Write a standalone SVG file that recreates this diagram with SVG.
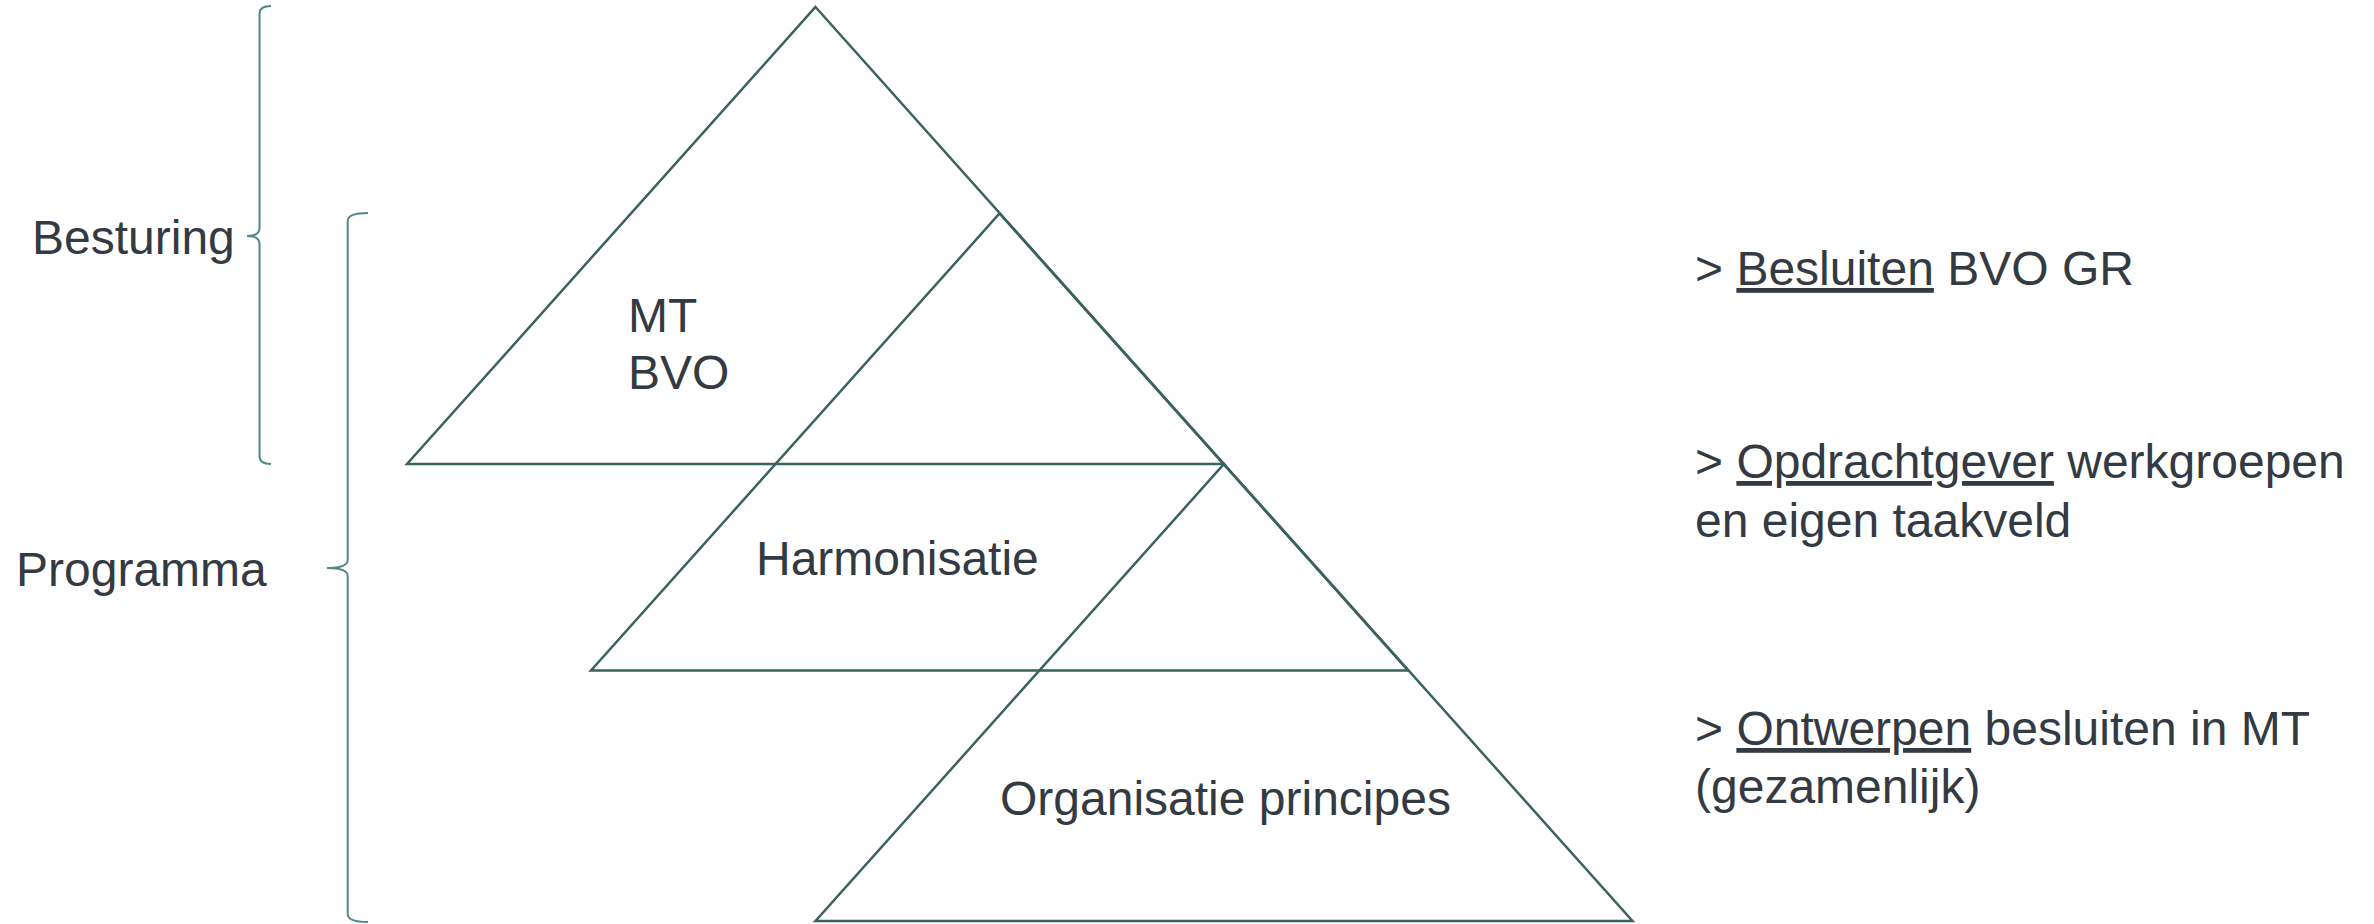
<svg xmlns="http://www.w3.org/2000/svg" width="2374" height="924" viewBox="0 0 2374 924">
  <style>
    .tri { fill: none; stroke: #3a625f; stroke-width: 2.5; stroke-linejoin: miter; }
    .brace { fill: none; stroke: #4f8a8a; stroke-width: 2; }
    .lbl { font-family: "Liberation Sans", Arial, sans-serif; font-size: 48px; fill: #343a42; }
    .u { text-decoration: underline; }
  </style>
  <rect width="2374" height="924" fill="#ffffff"/>

  <!-- left-hand braces -->
  <g id="connectors">
    <path class="brace" d="M271,6 Q259.5,6 259.5,14 L259.5,228 Q259.5,236 247,236 Q259.5,236 259.5,244 L259.5,456 Q259.5,464 271,464"/>
    <path class="brace" d="M368,213 Q347.7,213 347.7,221 L347.7,560 Q347.7,568 327,568 Q347.7,568 347.7,576 L347.7,914 Q347.7,922 368,922"/>
  </g>

  <g id="besturing">
    <text class="lbl" x="32" y="254">Besturing</text>
  </g>
  <g id="programma">
    <text class="lbl" x="16" y="586">Programma</text>
  </g>

  <!-- overlapping pyramid layers -->
  <g id="mt-bvo">
    <polygon class="tri" points="815.5,7 1224,464 407,464"/>
    <text class="lbl" x="628" y="332">MT</text>
    <text class="lbl" x="628" y="388.5">BVO</text>
  </g>
  <g id="harmonisatie">
    <polygon class="tri" points="999.5,213.5 1408,670.5 591,670.5"/>
    <text class="lbl" x="756" y="575">Harmonisatie</text>
  </g>
  <g id="organisatie-principes">
    <polygon class="tri" points="1224,464 1632.5,921 815.5,921"/>
    <text class="lbl" x="1000" y="815">Organisatie principes</text>
  </g>

  <!-- responsibilities per layer -->
  <g id="besluiten">
    <text class="lbl" x="1695" y="285">&gt; <tspan class="u">Besluiten</tspan> BVO GR</text>
  </g>
  <g id="opdrachtgever">
    <text class="lbl" x="1695" y="478">&gt; <tspan class="u">Opdrachtgever</tspan> werkgroepen</text>
    <text class="lbl" x="1695" y="537">en eigen taakveld</text>
  </g>
  <g id="ontwerpen">
    <text class="lbl" x="1695" y="745">&gt; <tspan class="u">Ontwerpen</tspan> besluiten in MT</text>
    <text class="lbl" x="1695" y="803">(gezamenlijk)</text>
  </g>
</svg>
